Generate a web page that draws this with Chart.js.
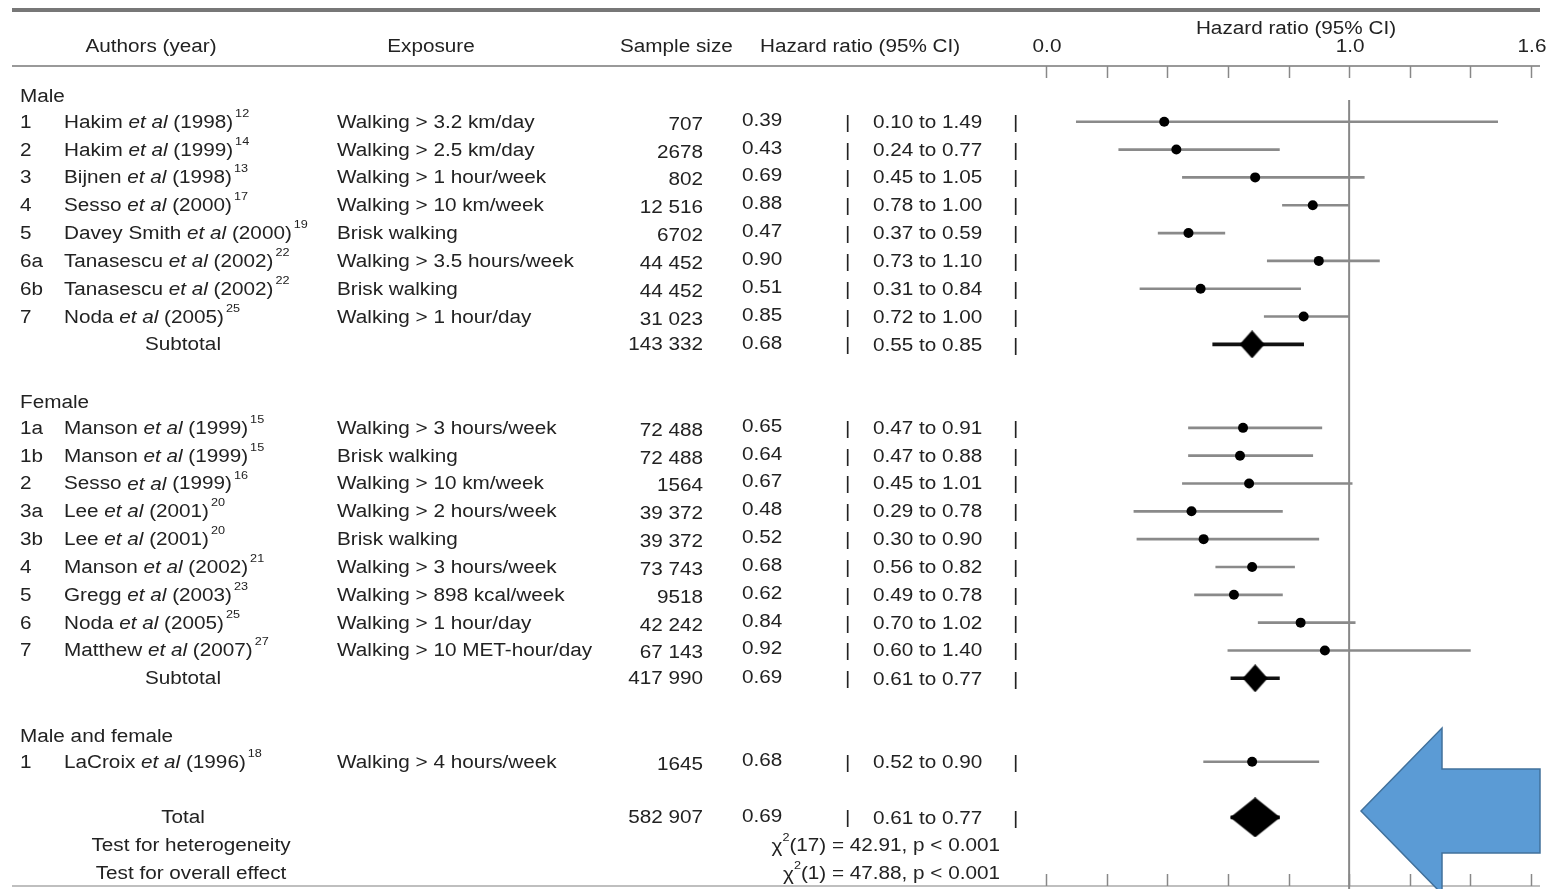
<!DOCTYPE html>
<html>
<head>
<meta charset="utf-8">
<title>Walking and coronary heart disease: hazard ratios</title>
<script src="https://cdn.jsdelivr.net/npm/chart.js@4.4.1/dist/chart.umd.min.js"></script>
<style>
  html, body { margin: 0; padding: 0; background: #fff; overflow: hidden; }
  #wrap { position: relative; width: 1547px; height: 889px; }
</style>
</head>
<body>
<div id="wrap"><canvas id="forest" width="1547" height="889"></canvas></div>
<script>
// ---------- study data ----------
const maleIds       = ['1', '2', '3', '4', '5', '6a', '6b', '7'];
const maleAuthors   = ['Hakim', 'Hakim', 'Bijnen', 'Sesso', 'Davey Smith', 'Tanasescu', 'Tanasescu', 'Noda'];
const maleYears     = [1998, 1999, 1998, 2000, 2000, 2002, 2002, 2005];
const maleRefs      = [12, 14, 13, 17, 19, 22, 22, 25];
const maleExposure  = ['Walking > 3.2 km/day', 'Walking > 2.5 km/day', 'Walking > 1 hour/week', 'Walking > 10 km/week',
                       'Brisk walking', 'Walking > 3.5 hours/week', 'Brisk walking', 'Walking > 1 hour/day'];
const maleSize      = [707, 2678, 802, 12516, 6702, 44452, 44452, 31023];
const maleHR        = [0.39, 0.43, 0.69, 0.88, 0.47, 0.90, 0.51, 0.85];
const maleLower     = [0.10, 0.24, 0.45, 0.78, 0.37, 0.73, 0.31, 0.72];
const maleUpper     = [1.49, 0.77, 1.05, 1.00, 0.59, 1.10, 0.84, 1.00];

const femaleIds      = ['1a', '1b', '2', '3a', '3b', '4', '5', '6', '7'];
const femaleAuthors  = ['Manson', 'Manson', 'Sesso', 'Lee', 'Lee', 'Manson', 'Gregg', 'Noda', 'Matthew'];
const femaleYears    = [1999, 1999, 1999, 2001, 2001, 2002, 2003, 2005, 2007];
const femaleRefs     = [15, 15, 16, 20, 20, 21, 23, 25, 27];
const femaleExposure = ['Walking > 3 hours/week', 'Brisk walking', 'Walking > 10 km/week', 'Walking > 2 hours/week',
                        'Brisk walking', 'Walking > 3 hours/week', 'Walking > 898 kcal/week', 'Walking > 1 hour/day',
                        'Walking > 10 MET-hour/day'];
const femaleSize     = [72488, 72488, 1564, 39372, 39372, 73743, 9518, 42242, 67143];
const femaleHR       = [0.65, 0.64, 0.67, 0.48, 0.52, 0.68, 0.62, 0.84, 0.92];
const femaleLower    = [0.47, 0.47, 0.45, 0.29, 0.30, 0.56, 0.49, 0.70, 0.60];
const femaleUpper    = [0.91, 0.88, 1.01, 0.78, 0.90, 0.82, 0.78, 1.02, 1.40];

const bothIds      = ['1'];
const bothAuthors  = ['LaCroix'];
const bothYears    = [1996];
const bothRefs     = [18];
const bothExposure = ['Walking > 4 hours/week'];
const bothSize     = [1645];
const bothHR       = [0.68];
const bothLower    = [0.52];
const bothUpper    = [0.90];

// pooled estimates: [male subtotal, female subtotal]
const subtotalSize  = [143332, 417990];
const subtotalHR    = [0.68, 0.69];
const subtotalLower = [0.55, 0.61];
const subtotalUpper = [0.85, 0.77];

const totalSize  = 582907;
const totalHR    = 0.69;
const totalLower = 0.61;
const totalUpper = 0.77;

// chi-square tests: [heterogeneity, overall effect]
const testLabels = ['Test for heterogeneity', 'Test for overall effect'];
const testDf     = [17, 1];
const testChi    = [42.91, 47.88];
const testP      = ['p < 0.001', 'p < 0.001'];

// axis
const tickValues = [0, 0.2, 0.4, 0.6, 0.8, 1.0, 1.2, 1.4, 1.6];
const tickLabels = ['0.0', '1.0', '1.6'];   // labelled ticks
const axisMin = 0, axisMax = 1.6;

// ---------- row layout ----------
const rows = [];
function addStudies(ids, authors, years, refs, exposure, size, hr, lower, upper) {
  ids.forEach((id, i) => rows.push({
    kind: 'study', id, author: authors[i], year: years[i], ref: refs[i], exposure: exposure[i],
    size: size[i], hr: hr[i], lower: lower[i], upper: upper[i]
  }));
}
rows.push({ kind: 'section', label: 'Male' });
addStudies(maleIds, maleAuthors, maleYears, maleRefs, maleExposure, maleSize, maleHR, maleLower, maleUpper);
rows.push({ kind: 'subtotal', size: subtotalSize[0], hr: subtotalHR[0], lower: subtotalLower[0], upper: subtotalUpper[0] });
rows.push({ kind: 'blank' });
rows.push({ kind: 'section', label: 'Female' });
addStudies(femaleIds, femaleAuthors, femaleYears, femaleRefs, femaleExposure, femaleSize, femaleHR, femaleLower, femaleUpper);
rows.push({ kind: 'subtotal', size: subtotalSize[1], hr: subtotalHR[1], lower: subtotalLower[1], upper: subtotalUpper[1] });
rows.push({ kind: 'blank' });
rows.push({ kind: 'section', label: 'Male and female' });
addStudies(bothIds, bothAuthors, bothYears, bothRefs, bothExposure, bothSize, bothHR, bothLower, bothUpper);
rows.push({ kind: 'blank' });
rows.push({ kind: 'total', size: totalSize, hr: totalHR, lower: totalLower, upper: totalUpper });
testLabels.forEach((label, i) => rows.push({ kind: 'test', label, df: testDf[i], chi: testChi[i], p: testP[i] }));

const rowLabels = rows.map((_, i) => 'row' + i);
const isPooled = r => r.kind === 'subtotal' || r.kind === 'total';

const studyCI   = rows.map(r => r.kind === 'study' ? [r.lower, r.upper] : null);
const pooledCI  = rows.map(r => isPooled(r) ? [r.lower, r.upper] : null);
const studyEst  = rows.map(r => r.kind === 'study' ? r.hr : null);
const pooledEst = rows.map(r => isPooled(r) ? r.hr : null);

// ---------- marker shapes ----------
function diamond(w, h) {
  const c = document.createElement('canvas');
  c.width = w; c.height = h;
  const g = c.getContext('2d');
  g.fillStyle = '#000';
  g.beginPath();
  g.moveTo(w / 2, 0); g.lineTo(w, h / 2); g.lineTo(w / 2, h); g.lineTo(0, h / 2);
  g.closePath(); g.fill();
  return c;
}
const subtotalDiamond = diamond(25, 28);
const totalDiamond = diamond(50, 40);

// ---------- text helpers ----------
const FAMILY = '"Liberation Sans", Arial, Helvetica, sans-serif';
const FONT = '18px ' + FAMILY;
const ITALIC = 'italic 18px ' + FAMILY;
const SUP = '11px ' + FAMILY;
const SX = 1.15;          // horizontal stretch of the typeset table
const INK = '#222';

function put(ctx, s, x, y, font, align) {
  ctx.font = font;
  const w = ctx.measureText(s).width * SX;
  const x0 = align === 'right' ? x - w : align === 'center' ? x - w / 2 : x;
  ctx.save();
  ctx.translate(x0, y);
  ctx.scale(SX, 1);
  ctx.textAlign = 'left';
  ctx.textBaseline = 'middle';
  ctx.fillText(s, 0, 0);
  ctx.restore();
  return w;
}
function fmtSize(n) {
  return n >= 10000 ? String(n).replace(/\B(?=(\d{3})+(?!\d))/g, ' ') : String(n);
}
function fmtCI(lo, hi) { return lo.toFixed(2) + ' to ' + hi.toFixed(2); }

// ---------- columns ----------
const COL = { id: 20, author: 64, exposure: 337, sizeRight: 703, hr: 742, bar1: 845, ci: 873, bar2: 1013, testRight: 1000 };
const RULE_LEFT = 12, RULE_RIGHT = 1540;

const framePlugin = {
  id: 'frame',
  beforeDatasetsDraw(chart) {
    const { ctx } = chart;
    const xs = chart.scales.x;
    ctx.save();
    // rules
    ctx.strokeStyle = '#777';
    ctx.lineWidth = 4;
    ctx.beginPath(); ctx.moveTo(RULE_LEFT, 10); ctx.lineTo(RULE_RIGHT, 10); ctx.stroke();
    ctx.strokeStyle = '#999';
    ctx.lineWidth = 2;
    ctx.beginPath(); ctx.moveTo(RULE_LEFT, 66); ctx.lineTo(RULE_RIGHT, 66); ctx.stroke();
    ctx.strokeStyle = '#aaa';
    ctx.lineWidth = 1.5;
    ctx.beginPath(); ctx.moveTo(RULE_LEFT, 886); ctx.lineTo(RULE_RIGHT, 886); ctx.stroke();
    // tick marks along top and bottom of the plot
    ctx.strokeStyle = '#888';
    ctx.lineWidth = 1.5;
    tickValues.forEach(v => {
      const px = Math.round(xs.getPixelForValue(v)) + 0.5;
      ctx.beginPath(); ctx.moveTo(px, 66); ctx.lineTo(px, 78); ctx.stroke();
      ctx.beginPath(); ctx.moveTo(px, 874); ctx.lineTo(px, 886); ctx.stroke();
    });
    // line of no effect
    const x1 = xs.getPixelForValue(1.0);
    ctx.strokeStyle = '#888';
    ctx.lineWidth = 2;
    ctx.beginPath(); ctx.moveTo(x1, 100); ctx.lineTo(x1, 889); ctx.stroke();
    ctx.restore();
  },
  afterDatasetsDraw(chart) {
    const { ctx } = chart;
    const xs = chart.scales.x, ys = chart.scales.y;
    ctx.save();
    ctx.fillStyle = INK;

    // column headings
    put(ctx, 'Authors (year)', 151, 47, FONT, 'center');
    put(ctx, 'Exposure', 431, 47, FONT, 'center');
    put(ctx, 'Sample size', 620, 47, FONT, 'left');
    put(ctx, 'Hazard ratio (95% CI)', 760, 47, FONT, 'left');
    put(ctx, 'Hazard ratio (95% CI)', 1296, 29, FONT, 'center');
    tickLabels.forEach(t => put(ctx, t, xs.getPixelForValue(parseFloat(t)) + 1, 47, FONT, 'center'));

    rows.forEach((r, i) => {
      const y = ys.getPixelForValue(i) + 1;
      if (r.kind === 'section') {
        put(ctx, r.label, COL.id, y + 2, FONT, 'left');
      } else if (r.kind === 'study') {
        put(ctx, r.id, COL.id, y, FONT, 'left');
        let x = COL.author;
        x += put(ctx, r.author + ' ', x, y, FONT, 'left');
        x += put(ctx, 'et al', x, y, ITALIC, 'left');
        x += put(ctx, ' (' + r.year + ')', x, y, FONT, 'left');
        put(ctx, String(r.ref), x + 2, y - 9, SUP, 'left');
        put(ctx, r.exposure, COL.exposure, y, FONT, 'left');
        put(ctx, fmtSize(r.size), COL.sizeRight, y + 2, FONT, 'right');
        put(ctx, r.hr.toFixed(2), COL.hr, y - 2, FONT, 'left');
        put(ctx, '|', COL.bar1, y, FONT, 'left');
        put(ctx, fmtCI(r.lower, r.upper), COL.ci, y, FONT, 'left');
        put(ctx, '|', COL.bar2, y, FONT, 'left');
      } else if (isPooled(r)) {
        put(ctx, r.kind === 'total' ? 'Total' : 'Subtotal', 183, y, FONT, 'center');
        put(ctx, fmtSize(r.size), COL.sizeRight, y, FONT, 'right');
        put(ctx, r.hr.toFixed(2), COL.hr, y - 1, FONT, 'left');
        put(ctx, '|', COL.bar1, y, FONT, 'left');
        put(ctx, fmtCI(r.lower, r.upper), COL.ci, y + 1, FONT, 'left');
        put(ctx, '|', COL.bar2, y + 1, FONT, 'left');
      } else if (r.kind === 'test') {
        put(ctx, r.label, 191, y, FONT, 'center');
        const rest = '(' + r.df + ') = ' + r.chi.toFixed(2) + ', ' + r.p;
        ctx.font = FONT;
        const wRest = ctx.measureText(rest).width * SX;
        const xRest = COL.testRight - wRest;
        put(ctx, rest, xRest, y, FONT, 'left');
        put(ctx, '2', xRest - 7, y - 8, SUP, 'left');
        put(ctx, '\u03C7', xRest - 7, y + 1, FONT, 'right');
      }
    });

    // pointer arrow at the pooled estimate
    ctx.beginPath();
    ctx.moveTo(1361, 811);
    ctx.lineTo(1442, 728);
    ctx.lineTo(1442, 769);
    ctx.lineTo(1540, 769);
    ctx.lineTo(1540, 853);
    ctx.lineTo(1442, 853);
    ctx.lineTo(1442, 894);
    ctx.closePath();
    ctx.fillStyle = '#5B9BD5';
    ctx.fill();
    ctx.strokeStyle = '#41719C';
    ctx.lineWidth = 1.5;
    ctx.stroke();
    ctx.restore();
  }
};

new Chart(document.getElementById('forest'), {
  data: {
    labels: rowLabels,
    datasets: [
      { type: 'bar', label: 'Study 95% CI', data: studyCI, backgroundColor: '#8a8a8a',
        barThickness: 2, grouped: false, borderWidth: 0, borderSkipped: false, order: 4 },
      { type: 'bar', label: 'Pooled 95% CI', data: pooledCI, backgroundColor: '#111',
        barThickness: 3, grouped: false, borderWidth: 0, borderSkipped: false, order: 3 },
      { type: 'line', label: 'Study hazard ratio', data: studyEst, showLine: false,
        pointStyle: 'circle', pointRadius: 5, pointHoverRadius: 5, pointBorderWidth: 0,
        pointBackgroundColor: '#000', borderColor: '#000', order: 2 },
      { type: 'line', label: 'Pooled hazard ratio', data: pooledEst, showLine: false,
        pointStyle: ctx => rows[ctx.dataIndex] && rows[ctx.dataIndex].kind === 'total' ? totalDiamond : subtotalDiamond,
        pointRadius: 12, pointHoverRadius: 12, pointBorderWidth: 0,
        pointBackgroundColor: '#000', borderColor: '#000', order: 1 }
    ]
  },
  options: {
    indexAxis: 'y',
    responsive: false,
    animation: false,
    events: [],
    layout: { autoPadding: false, padding: { left: 1046, right: 16, top: 80, bottom: 2 } },
    plugins: { legend: { display: false }, tooltip: { enabled: false } },
    scales: {
      x: { type: 'linear', min: axisMin, max: axisMax, display: false },
      y: { type: 'category', display: false, offset: true }
    }
  },
  plugins: [framePlugin]
});
</script>
</body>
</html>
